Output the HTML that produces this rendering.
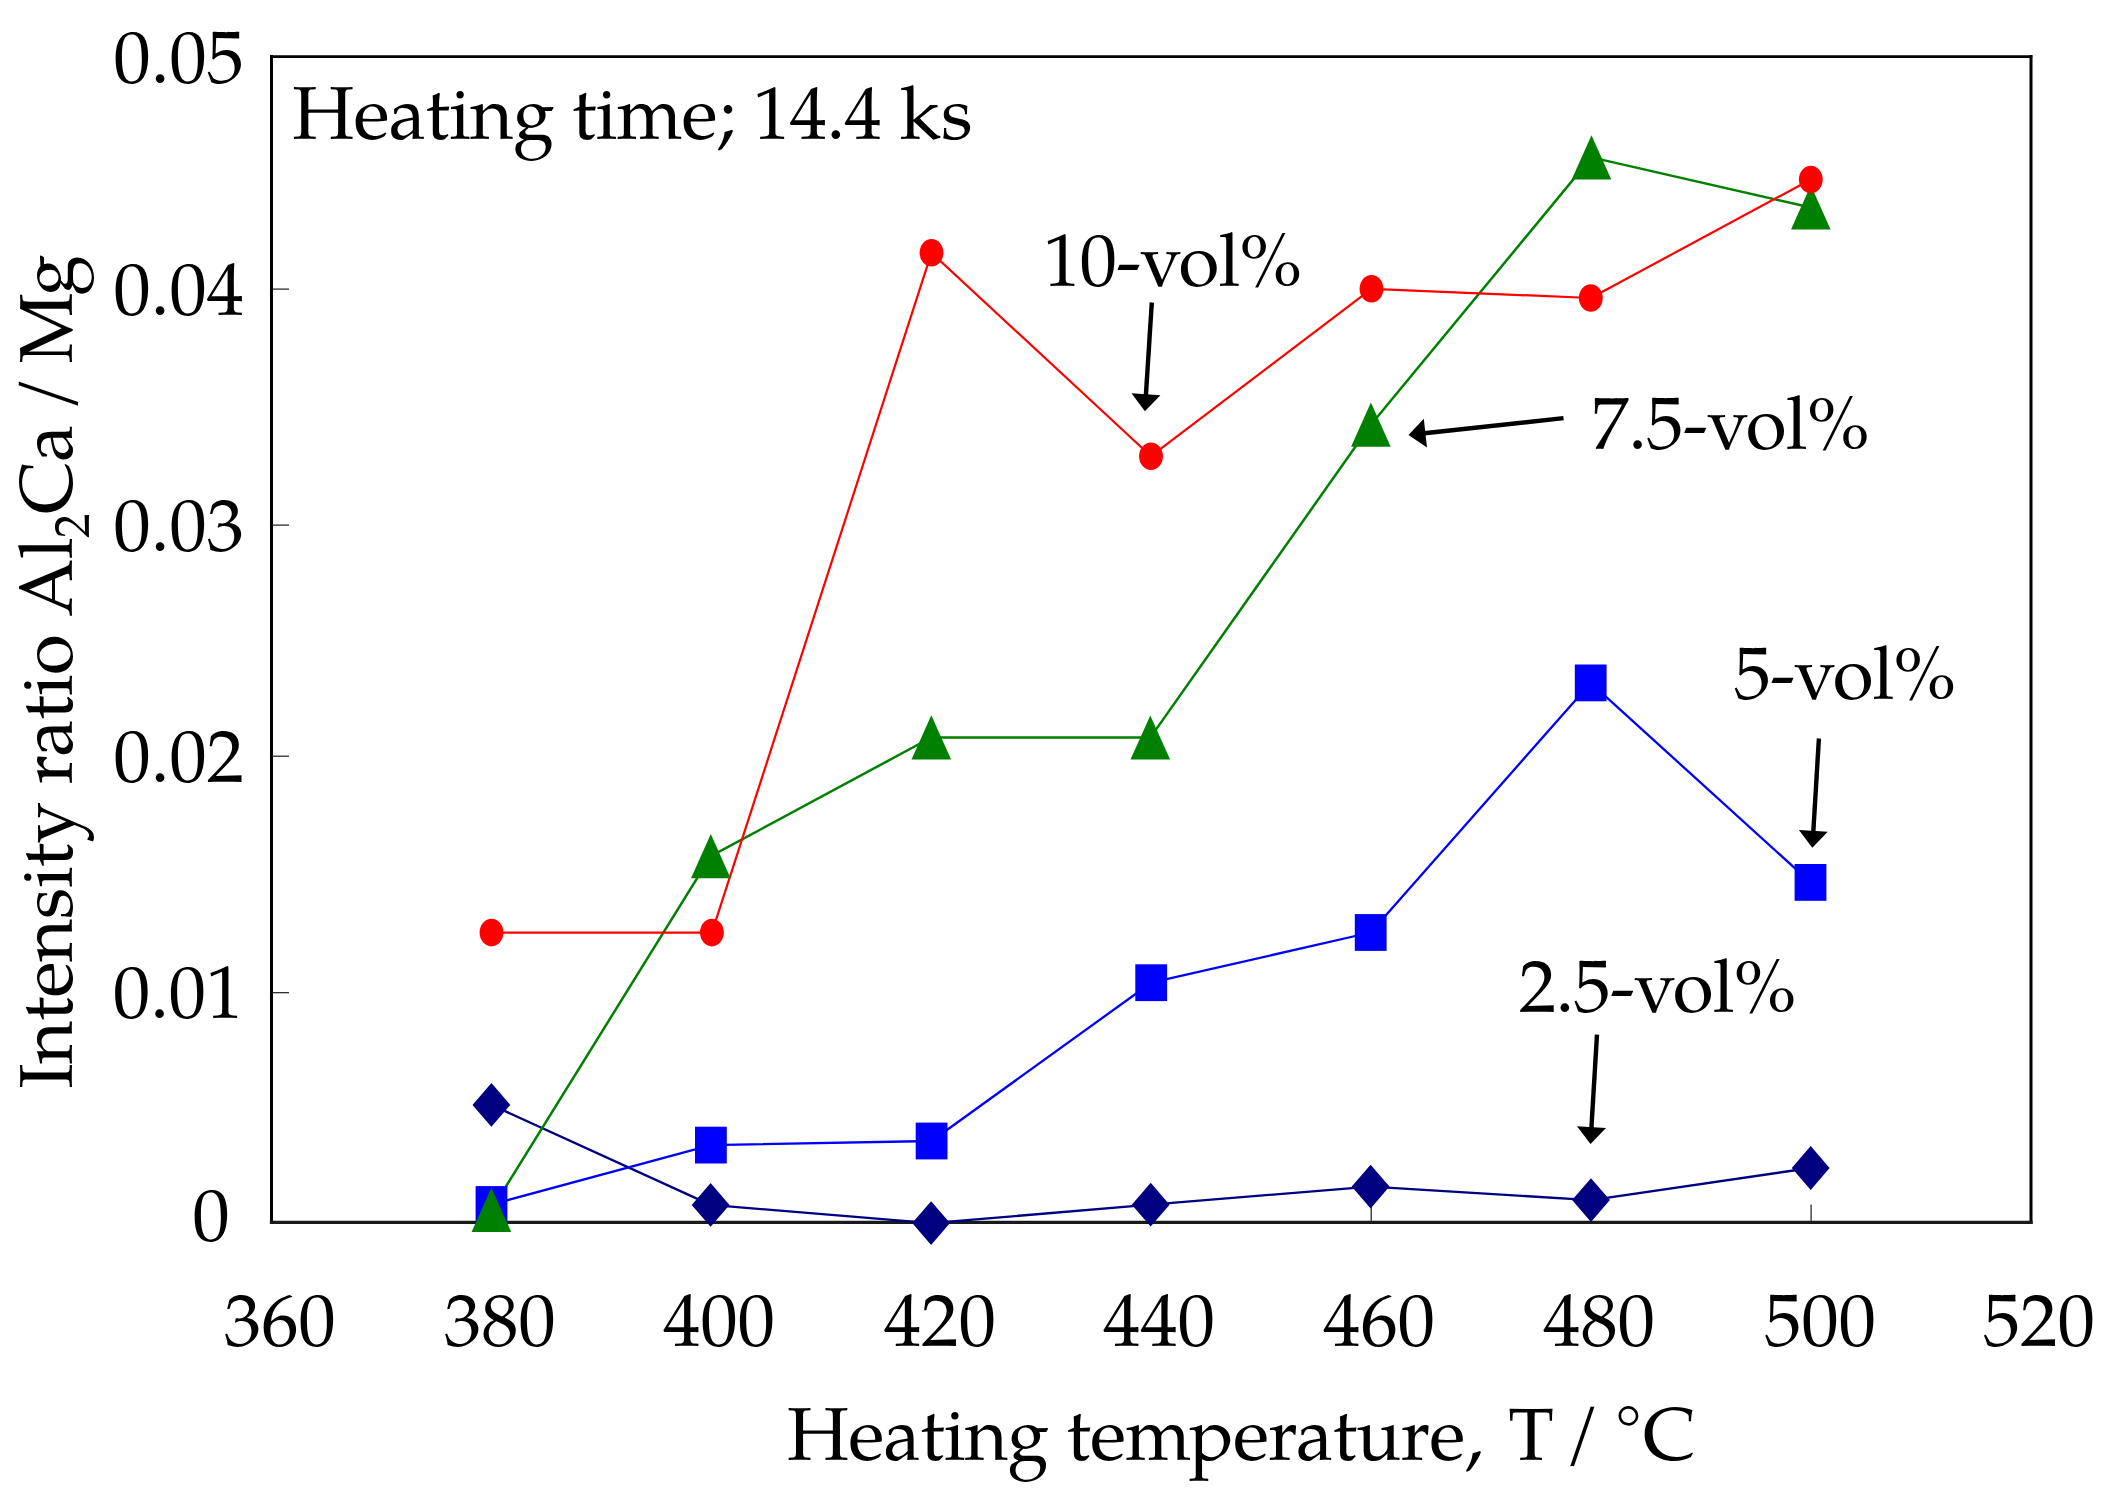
<!DOCTYPE html>
<html><head><meta charset="utf-8"><title>Intensity ratio chart</title>
<style>html,body{margin:0;padding:0;background:#fff;}svg{display:block;}</style></head>
<body><svg width="2108" height="1510" viewBox="0 0 2108 1510">
<rect width="2108" height="1510" fill="#fff"/>
<g fill="none" stroke-linecap="square">
<line x1="271.5" y1="56.6" x2="2031.0" y2="56.6" stroke="#000" stroke-width="2.6"/>
<line x1="271.5" y1="56.6" x2="271.5" y2="1222.4" stroke="#000" stroke-width="3"/>
<line x1="2031.0" y1="56.6" x2="2031.0" y2="1222.4" stroke="#000" stroke-width="3"/>
<line x1="271.5" y1="1222.4" x2="2031.0" y2="1222.4" stroke="#1a1a1a" stroke-width="3.3"/>
</g>
<g stroke="#1a1a1a" stroke-width="1.2" fill="none">
<line x1="271.5" y1="289.1" x2="289" y2="289.1"/>
<line x1="271.5" y1="525.1" x2="289" y2="525.1"/>
<line x1="271.5" y1="756.2" x2="289" y2="756.2"/>
<line x1="271.5" y1="992.7" x2="289" y2="992.7"/>
<line x1="491.4" y1="1204.5" x2="491.4" y2="1222.4"/>
<line x1="711.4" y1="1204.5" x2="711.4" y2="1222.4"/>
<line x1="931.3" y1="1204.5" x2="931.3" y2="1222.4"/>
<line x1="1151.2" y1="1204.5" x2="1151.2" y2="1222.4"/>
<line x1="1371.2" y1="1204.5" x2="1371.2" y2="1222.4"/>
<line x1="1591.1" y1="1204.5" x2="1591.1" y2="1222.4"/>
<line x1="1811.1" y1="1204.5" x2="1811.1" y2="1222.4"/>
</g>
<polyline points="491.4,1104.9 710.6,1204.9 931.1,1223.1 1150.7,1204.7 1370.6,1186.6 1591.0,1200.1 1810.7,1168.0" fill="none" stroke="#000080" stroke-width="2.3" stroke-linejoin="round"/>
<polyline points="491.5,1204.5 710.9,1145.1 931.6,1141.0 1151.2,982.7 1370.7,932.5 1590.7,682.9 1810.5,882.4" fill="none" stroke="#0000ff" stroke-width="2.3" stroke-linejoin="round"/>
<polyline points="491.4,1209.9 710.8,856.2 931.3,737.5 1150.3,737.6 1370.9,424.8 1591.5,157.4 1810.8,207.5" fill="none" stroke="#008000" stroke-width="2.5" stroke-linejoin="round"/>
<polyline points="491.5,932.6 711.9,932.6 931.5,252.8 1151.0,456.2 1371.5,288.8 1590.8,298.0 1810.8,179.5" fill="none" stroke="#ff0000" stroke-width="2.2" stroke-linejoin="round"/>
<polygon points="491.4,1083.0 510.3,1104.9 491.4,1126.8 472.5,1104.9" fill="#000080"/>
<polygon points="710.6,1183.0 729.5,1204.9 710.6,1226.8 691.7,1204.9" fill="#000080"/>
<polygon points="931.1,1201.2 950.0,1223.1 931.1,1245.0 912.2,1223.1" fill="#000080"/>
<polygon points="1150.7,1182.8 1169.6,1204.7 1150.7,1226.6 1131.8,1204.7" fill="#000080"/>
<polygon points="1370.6,1164.7 1389.5,1186.6 1370.6,1208.5 1351.7,1186.6" fill="#000080"/>
<polygon points="1591.0,1178.2 1609.9,1200.1 1591.0,1222.0 1572.1,1200.1" fill="#000080"/>
<polygon points="1810.7,1146.1 1829.6,1168.0 1810.7,1189.9 1791.8,1168.0" fill="#000080"/>
<rect x="475.6" y="1186.1" width="31.8" height="36.8" fill="#0000ff"/>
<rect x="695.0" y="1126.7" width="31.8" height="36.8" fill="#0000ff"/>
<rect x="915.7" y="1122.6" width="31.8" height="36.8" fill="#0000ff"/>
<rect x="1135.3" y="964.3" width="31.8" height="36.8" fill="#0000ff"/>
<rect x="1354.8" y="914.1" width="31.8" height="36.8" fill="#0000ff"/>
<rect x="1574.8" y="664.5" width="31.8" height="36.8" fill="#0000ff"/>
<rect x="1794.6" y="864.0" width="31.8" height="36.8" fill="#0000ff"/>
<polygon points="491.4,1187.7 511.2,1231.9 471.6,1231.9" fill="#008000"/>
<polygon points="710.8,834.0 730.6,878.2 691.0,878.2" fill="#008000"/>
<polygon points="931.3,715.3 951.1,759.5 911.5,759.5" fill="#008000"/>
<polygon points="1150.3,715.4 1170.1,759.6 1130.5,759.6" fill="#008000"/>
<polygon points="1370.9,402.6 1390.7,446.8 1351.1,446.8" fill="#008000"/>
<polygon points="1591.5,135.2 1611.3,179.4 1571.7,179.4" fill="#008000"/>
<polygon points="1810.8,185.3 1830.6,229.5 1791.0,229.5" fill="#008000"/>
<ellipse cx="491.5" cy="932.6" rx="11.9" ry="13.8" fill="#ff0000"/>
<ellipse cx="711.9" cy="932.6" rx="11.9" ry="13.8" fill="#ff0000"/>
<ellipse cx="931.5" cy="252.8" rx="11.9" ry="13.8" fill="#ff0000"/>
<ellipse cx="1151.0" cy="456.2" rx="11.9" ry="13.8" fill="#ff0000"/>
<ellipse cx="1371.5" cy="288.8" rx="11.9" ry="13.8" fill="#ff0000"/>
<ellipse cx="1590.8" cy="298.0" rx="11.9" ry="13.8" fill="#ff0000"/>
<ellipse cx="1810.8" cy="179.5" rx="11.9" ry="13.8" fill="#ff0000"/>
<line x1="1151.8" y1="302.5" x2="1145.9" y2="395.2" stroke="#000" stroke-width="4.4"/>
<polygon points="1144.9,411.2 1131.5,393.3 1160.4,395.2" fill="#000"/>
<line x1="1563.5" y1="418.1" x2="1424.4" y2="433.3" stroke="#000" stroke-width="4.4"/>
<polygon points="1408.5,435.0 1423.8,418.7 1427.0,447.6" fill="#000"/>
<line x1="1818.9" y1="738.5" x2="1813.3" y2="831.8" stroke="#000" stroke-width="4.4"/>
<polygon points="1812.3,847.8 1798.9,830.0 1827.8,831.7" fill="#000"/>
<line x1="1597.0" y1="1034.6" x2="1591.4" y2="1128.0" stroke="#000" stroke-width="4.4"/>
<polygon points="1590.5,1144.0 1577.0,1126.2 1606.0,1127.9" fill="#000"/>
<g font-family="&quot;TeX Gyre Pagella&quot;,&quot;Palatino Linotype&quot;,&quot;Book Antiqua&quot;,Palatino,&quot;Liberation Serif&quot;,serif" fill="#000">
<text x="113.6" y="83.3" font-size="74.5" textLength="130.4" lengthAdjust="spacing">0.05</text>
<text x="113.6" y="315.2" font-size="74.5" textLength="130.4" lengthAdjust="spacing">0.04</text>
<text x="113.6" y="550.5" font-size="74.5" textLength="130.4" lengthAdjust="spacing">0.03</text>
<text x="113.6" y="782.4" font-size="74.5" textLength="130.4" lengthAdjust="spacing">0.02</text>
<text x="112.9" y="1018.0" font-size="74.5" textLength="130.4" lengthAdjust="spacing">0.01</text>
<text x="192.4" y="1240.8" font-size="74.5" textLength="37.3" lengthAdjust="spacing">0</text>
<text x="223.9" y="1346.0" font-size="74.5" textLength="111.8" lengthAdjust="spacing">360</text>
<text x="443.9" y="1346.0" font-size="74.5" textLength="111.8" lengthAdjust="spacing">380</text>
<text x="663.3" y="1346.0" font-size="74.5" textLength="111.8" lengthAdjust="spacing">400</text>
<text x="884.1" y="1346.0" font-size="74.5" textLength="111.8" lengthAdjust="spacing">420</text>
<text x="1103.3" y="1346.0" font-size="74.5" textLength="111.8" lengthAdjust="spacing">440</text>
<text x="1323.3" y="1346.0" font-size="74.5" textLength="111.8" lengthAdjust="spacing">460</text>
<text x="1543.3" y="1346.0" font-size="74.5" textLength="111.8" lengthAdjust="spacing">480</text>
<text x="1764.3" y="1346.0" font-size="74.5" textLength="111.8" lengthAdjust="spacing">500</text>
<text x="1983.1" y="1346.0" font-size="74.5" textLength="111.8" lengthAdjust="spacing">520</text>
<text x="787.1" y="1459.8" font-size="74.5" textLength="696.2" lengthAdjust="spacing">Heating temperature,</text>
<text x="1508.3" y="1459.8" font-size="74.5" textLength="45.7" lengthAdjust="spacing">T</text>
<text x="1564.3" y="1455.4" font-size="74.5">/</text>
<text x="1615.2" y="1451.0" font-size="66">°</text>
<text x="1643.1" y="1459.9" font-size="74.5">C</text>
<text x="292.2" y="138.8" font-size="74.5" textLength="680.4" lengthAdjust="spacing">Heating time; 14.4 ks</text>
<text x="1043.2" y="286.0" font-size="74.5" textLength="258.8" lengthAdjust="spacing">10-vol%</text>
<text x="1591.6" y="448.6" font-size="74.5" textLength="277.9" lengthAdjust="spacing">7.5-vol%</text>
<text x="1733.8" y="698.7" font-size="74.5" textLength="222.3" lengthAdjust="spacing">5-vol%</text>
<text x="1518.9" y="1011.8" font-size="74.5" textLength="277.5" lengthAdjust="spacing">2.5-vol%</text>
<text transform="translate(71.5,1086.5) rotate(-90)" x="-2" y="0" font-size="74.5" textLength="664.0" lengthAdjust="spacing">Intensity ratio Al<tspan font-size="49" dy="17.9">2</tspan><tspan dy="-17.9">Ca</tspan></text>
<text transform="translate(71.5,405.7) rotate(-90)" x="-6" y="0" font-size="74.5" textLength="157.1" lengthAdjust="spacing"><tspan dy="-5">/</tspan><tspan dy="5"> Mg</tspan></text>
</g>
</svg></body></html>
